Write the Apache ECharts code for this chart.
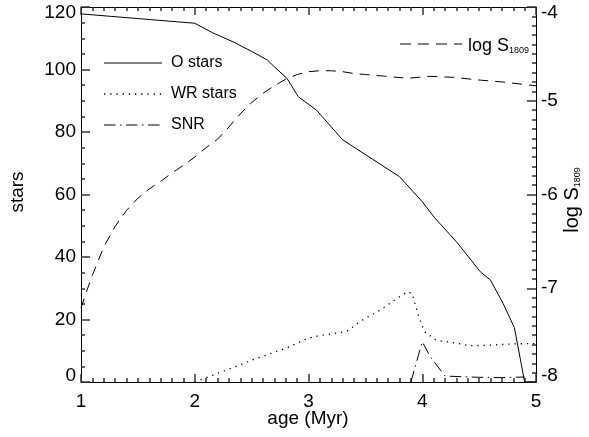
<!DOCTYPE html>
<html>
<head>
<meta charset="utf-8">
<script src="https://cdn.jsdelivr.net/npm/echarts@6/dist/echarts.min.js"></script>
<style>
html,body{margin:0;padding:0;background:#fff;}
#chart{width:589px;height:437px;}
</style>
</head>
<body>
<div id="chart"></div>
<script>
// ---- data ----
const oAge   = [1.0, 2.0, 2.16, 2.34, 2.5, 2.64, 2.69, 2.81, 2.91, 3.07, 3.3, 3.8, 4.0, 4.11, 4.3, 4.51, 4.6, 4.71, 4.81, 4.9, 5.0];
const oStars = [117.8, 114.8, 111.7, 108.8, 105.8, 103, 101.2, 97.2, 91.3, 87, 77.5, 65.7, 57.7, 52.5, 44.9, 35.3, 32.6, 25.2, 17.4, 0, 0];

const wrAge   = [2.0, 2.16, 2.34, 2.5, 2.66, 2.82, 2.98, 3.1, 3.28, 3.34, 3.45, 3.63, 3.78, 3.87, 3.91, 3.97, 4.02, 4.12, 4.3, 4.42, 4.6, 4.8, 5.0];
const wrStars = [0, 2.2, 4.7, 7, 9, 11.1, 13.8, 14.9, 15.8, 16.3, 19.3, 23, 26.8, 28.9, 28.4, 20.8, 16.1, 13.4, 12.4, 11.6, 11.8, 12.2, 12.3];

const snrAge   = [3.9, 4.0, 4.07, 4.2, 4.5, 4.7, 4.9];
const snrStars = [0, 12.9, 8.1, 1.9, 1.5, 1.4, 1.6];

const sAge = [1.0, 1.05, 1.1, 1.2, 1.3, 1.4, 1.5, 1.6, 1.7, 1.8, 1.9, 2.0, 2.1, 2.2, 2.3, 2.4, 2.5, 2.6, 2.7, 2.8, 2.9, 3.0, 3.1, 3.2, 3.3, 3.4, 3.5, 3.69, 3.87, 4.07, 4.27, 4.51, 4.71, 4.92, 5.0];
const logS = [-7.21, -7.03, -6.86, -6.56, -6.34, -6.17, -6.04, -5.94, -5.86, -5.77, -5.69, -5.60, -5.50, -5.41, -5.28, -5.14, -5.02, -4.92, -4.84, -4.77, -4.72, -4.69, -4.68, -4.68, -4.69, -4.71, -4.72, -4.74, -4.76, -4.74, -4.75, -4.78, -4.80, -4.83, -4.84];

const xTicks = {min: 1, max: 5, step: 1};
const starTicks = {min: 0, max: 120, step: 20};
const logTicks = {min: -8, max: -4, step: 1};

const legendNames = ['O stars', 'WR stars', 'SNR'];
const xTitle = 'age (Myr)';
const yTitle = 'stars';

// ---- build ----
const FONT = '"Liberation Sans", Arial, Helvetica, sans-serif';
const BLACK = '#000';
const TICK = '#333';
const pairs = (xs, ys) => xs.map((x, i) => [x, ys[i]]);

const dashS = [10, 7];
const dotWR = [1.3, 4.9];
const dashDot = [11.5, 4.5, 1.5, 4.5];

function yLabel(lo, hi) {
  return {
    show: true, color: BLACK, fontSize: 19, fontFamily: FONT, margin: 5,
    formatter: function (v) {
      if (v === lo) return '{lo|' + v + '}';
      if (v === hi) return '{hi|' + v + '}';
      return String(v);
    },
    rich: {
      lo: {fontSize: 19, fontFamily: FONT, color: BLACK, padding: [0, 0, 12, 0]},
      hi: {fontSize: 19, fontFamily: FONT, color: BLACK, padding: [12, 0, 0, 0]}
    }
  };
}

function ticks(len, minorSplit) {
  return {
    axisTick: {show: true, inside: true, length: len, lineStyle: {color: TICK, width: 1.5}},
    minorTick: {show: true, splitNumber: minorSplit, length: 4, lineStyle: {color: TICK, width: 1.5}}
  };
}

const chart = echarts.init(document.getElementById('chart'), null, {renderer: 'canvas'});
chart.setOption({
  animation: false,
  backgroundColor: '#fff',
  grid: {left: 81, top: 7, width: 455, height: 375, containLabel: false, outerBoundsMode: 'none'},
  xAxis: [
    Object.assign({
      type: 'value', position: 'bottom', min: xTicks.min, max: xTicks.max, interval: xTicks.step,
      axisLine: {show: true, onZero: false, lineStyle: {color: BLACK, width: 1}},
      splitLine: {show: false},
      axisLabel: {show: true, color: BLACK, fontSize: 19, fontFamily: FONT, margin: 10, showMinLabel: true, showMaxLabel: true}
    }, ticks(8, 10)),
    Object.assign({
      type: 'value', position: 'top', min: xTicks.min, max: xTicks.max, interval: xTicks.step,
      axisLine: {show: true, onZero: false, lineStyle: {color: BLACK, width: 1}},
      splitLine: {show: false},
      axisLabel: {show: false}
    }, ticks(8, 10))
  ],
  yAxis: [
    Object.assign({
      type: 'value', position: 'left', min: starTicks.min, max: starTicks.max, interval: starTicks.step,
      axisLine: {show: true, onZero: false, lineStyle: {color: BLACK, width: 1}},
      splitLine: {show: false},
      axisLabel: yLabel(starTicks.min, starTicks.max)
    }, ticks(9, 4)),
    Object.assign({
      type: 'value', position: 'right', min: logTicks.min, max: logTicks.max, interval: logTicks.step,
      axisLine: {show: true, onZero: false, lineStyle: {color: BLACK, width: 1}},
      splitLine: {show: false},
      axisLabel: yLabel(logTicks.min, logTicks.max)
    }, ticks(9, 10))
  ],
  series: [
    {name: legendNames[0], type: 'line', xAxisIndex: 0, yAxisIndex: 0, data: pairs(oAge, oStars),
     symbol: 'none', lineStyle: {color: BLACK, width: 1, type: 'solid'}},
    {name: legendNames[1], type: 'line', xAxisIndex: 0, yAxisIndex: 0, data: pairs(wrAge, wrStars),
     symbol: 'none', lineStyle: {color: BLACK, width: 1.3, type: dotWR}},
    {name: legendNames[2], type: 'line', xAxisIndex: 0, yAxisIndex: 0, data: pairs(snrAge, snrStars),
     symbol: 'none', lineStyle: {color: BLACK, width: 1, type: dashDot}},
    {name: 'log S1809', type: 'line', xAxisIndex: 0, yAxisIndex: 1, data: pairs(sAge, logS),
     symbol: 'none', lineStyle: {color: BLACK, width: 1, type: dashS}}
  ],
  graphic: [
    {type: 'line', shape: {x1: 104, y1: 63, x2: 162, y2: 63}, style: {stroke: BLACK, lineWidth: 1}},
    {type: 'text', x: 171, y: 63, style: {text: legendNames[0], font: '16px ' + FONT, fill: BLACK, verticalAlign: 'middle'}},
    {type: 'line', shape: {x1: 104, y1: 94, x2: 162, y2: 94}, style: {stroke: BLACK, lineWidth: 1.3, lineDash: dotWR}},
    {type: 'text', x: 171, y: 94, style: {text: legendNames[1], font: '16px ' + FONT, fill: BLACK, verticalAlign: 'middle'}},
    {type: 'line', shape: {x1: 104, y1: 125, x2: 162, y2: 125}, style: {stroke: BLACK, lineWidth: 1, lineDash: dashDot}},
    {type: 'text', x: 171, y: 125, style: {text: legendNames[2], font: '16px ' + FONT, fill: BLACK, verticalAlign: 'middle'}},
    {type: 'line', shape: {x1: 400, y1: 44, x2: 462, y2: 44}, style: {stroke: BLACK, lineWidth: 1, lineDash: [11, 7]}},
    {type: 'text', x: 468, y: 46, style: {
      text: 'log S{sub|1809}', font: '18px ' + FONT, fill: BLACK, verticalAlign: 'middle',
      rich: {sub: {fontSize: 9, fontFamily: FONT, fill: BLACK, verticalAlign: 'bottom'}}
    }},
    {type: 'text', x: 308, y: 419, style: {text: xTitle, font: '19px ' + FONT, fill: BLACK, align: 'center', verticalAlign: 'middle'}},
    {type: 'text', x: 18, y: 192, rotation: Math.PI / 2, style: {text: yTitle, font: '19px ' + FONT, fill: BLACK, align: 'center', verticalAlign: 'middle'}},
    {type: 'text', x: 572, y: 200, rotation: Math.PI / 2, style: {
      text: 'log S{sub|1809}', font: '20px ' + FONT, fill: BLACK, align: 'center', verticalAlign: 'middle',
      rich: {sub: {fontSize: 9, fontFamily: FONT, fill: BLACK, verticalAlign: 'bottom'}}
    }}
  ]
});
</script>
</body>
</html>
